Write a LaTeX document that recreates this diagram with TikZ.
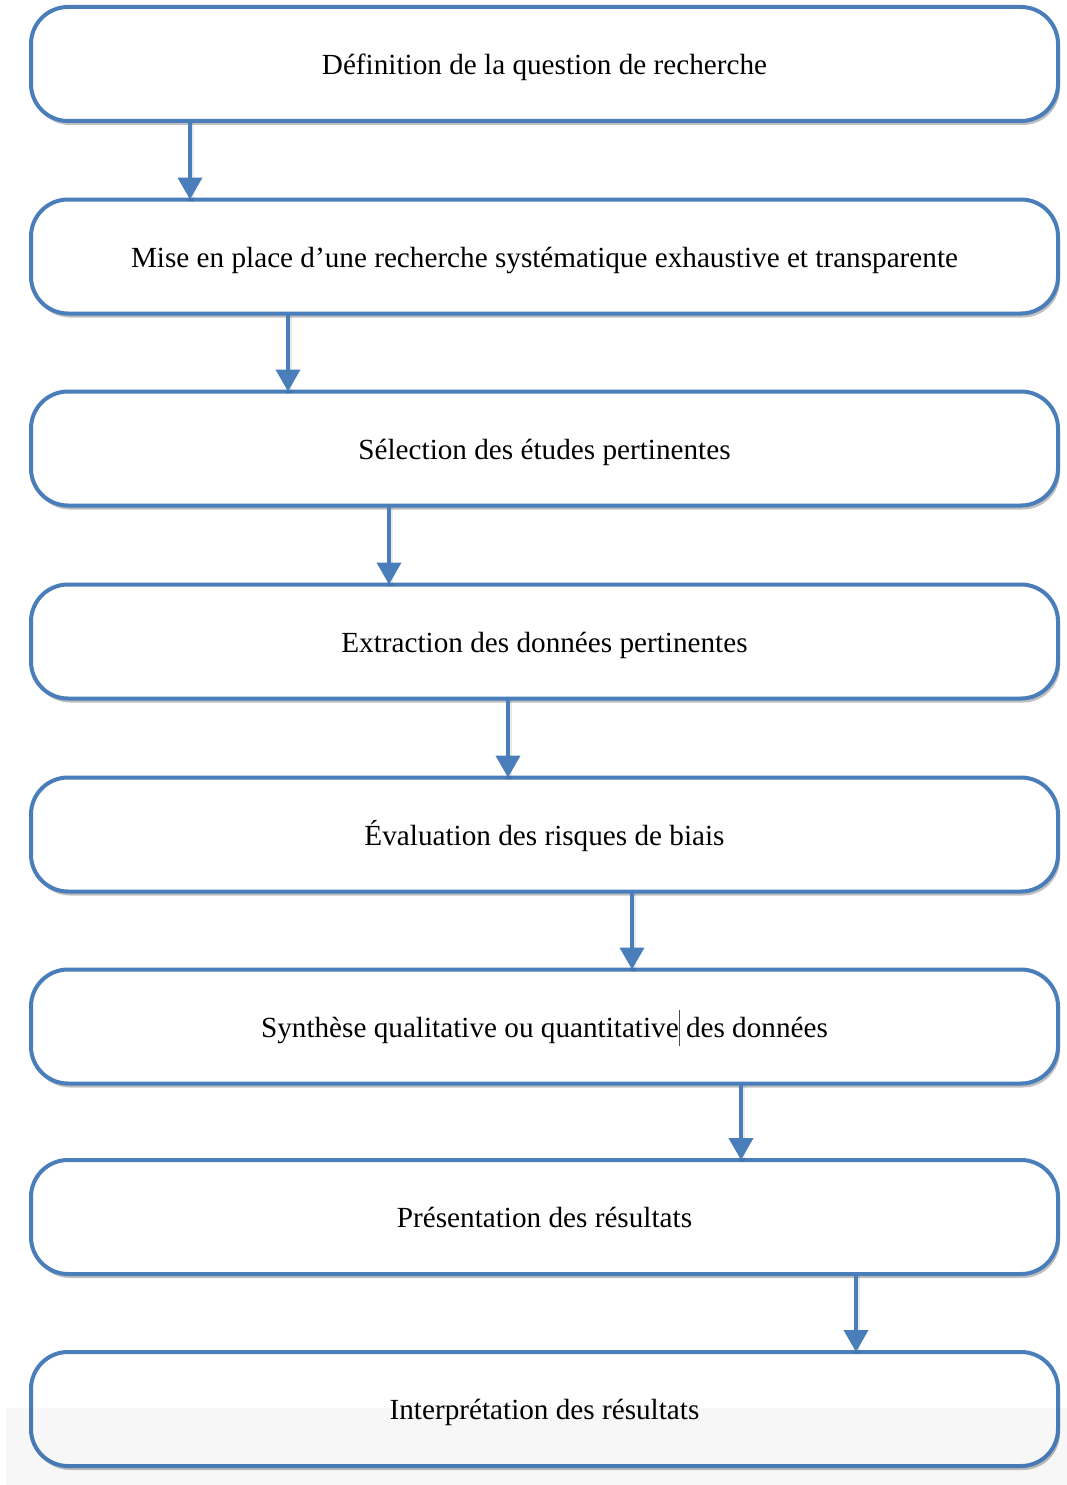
\documentclass[tikz,border=0pt]{standalone}
\usepackage{fontspec}
\setmainfont{Liberation Serif}
\usetikzlibrary{arrows.meta,shadows}
\definecolor{boxblue}{RGB}{74,126,187}
\begin{document}
\begin{tikzpicture}[x=1pt,y=-1pt,
  stepbox/.style={draw=boxblue, line width=4pt, fill=white, rounded corners=37pt,
    minimum width=1027pt, minimum height=114pt, inner sep=0pt, outer sep=0pt,
    font=\fontsize{29.2}{33}\selectfont, text height=27pt, text depth=6pt,
    drop shadow={shadow xshift=2pt, shadow yshift=-4pt, opacity=0.25, fill=black}},
  arr/.style={draw=boxblue, line width=4pt, -{Triangle[width=24pt,length=22pt]},
    preaction={draw=black, opacity=0.08, line width=6pt, arrows=-, transform canvas={xshift=1pt,yshift=-2pt}}}
]
\useasboundingbox (0,0) rectangle (1067,1485);
\fill[white] (0,0) rectangle (1067,1485);
\node[stepbox] (b1) at (544.5,64) {Définition de la question de recherche};
\node[stepbox] (b2) at (544.5,256.5) {Mise en place d’une recherche systématique exhaustive et transparente};
\node[stepbox] (b3) at (544.5,448.5) {Sélection des études pertinentes};
\node[stepbox] (b4) at (544.5,641.5) {Extraction des données pertinentes};
\node[stepbox] (b5) at (544.5,834.5) {Évaluation des risques de biais};
\node[stepbox] (b6) at (544.5,1026.5) {Synthèse qualitative ou quantitative\rlap{\color{black!70}\rule[-9pt]{1.3pt}{36pt}} des données};
\node[stepbox] (b7) at (544.5,1217) {Présentation des résultats};
\node[stepbox] (b8) at (544.5,1409) {Interprétation des résultats};
\draw[arr] ([xshift=-354.5pt]b1.south) -- ([xshift=-354.5pt]b2.north);
\draw[arr] ([xshift=-256.5pt]b2.south) -- ([xshift=-256.5pt]b3.north);
\draw[arr] ([xshift=-155.5pt]b3.south) -- ([xshift=-155.5pt]b4.north);
\draw[arr] ([xshift=-36.5pt]b4.south) -- ([xshift=-36.5pt]b5.north);
\draw[arr] ([xshift=87.5pt]b5.south) -- ([xshift=87.5pt]b6.north);
\draw[arr] ([xshift=196.5pt]b6.south) -- ([xshift=196.5pt]b7.north);
\draw[arr] ([xshift=311.5pt]b7.south) -- ([xshift=311.5pt]b8.north);
\fill[black, opacity=0.03] (6,1408) rectangle (1067,1485);
\end{tikzpicture}
\end{document}
